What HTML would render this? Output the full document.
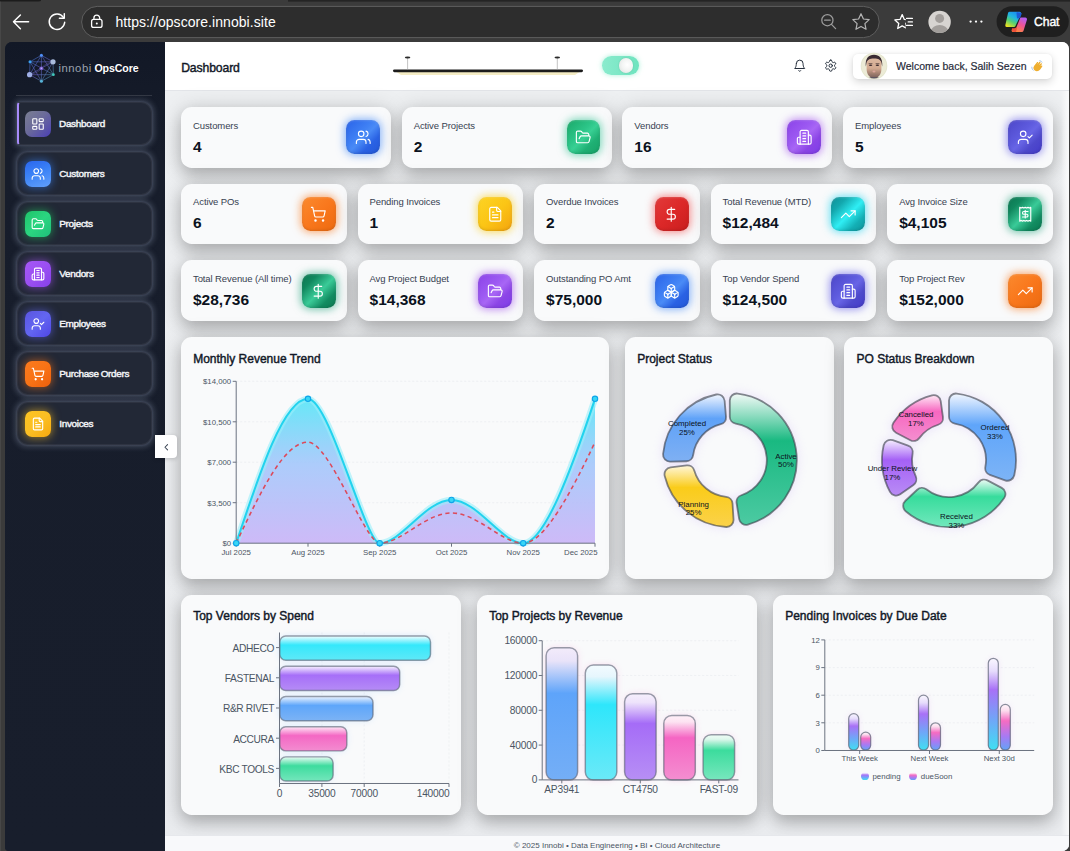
<!DOCTYPE html>
<html><head><meta charset="utf-8"><title>OpsCore Dashboard</title>
<style>
*{box-sizing:border-box}
html,body{margin:0;padding:0}
html{width:1070px;height:851px;overflow:hidden}
body{width:1070px;height:851px;overflow:hidden;background:linear-gradient(90deg,#474747 0,#474747 1px,#3b3b3b 1px);position:relative;font-family:"Liberation Sans",sans-serif;-webkit-font-smoothing:antialiased}
#chrome{position:absolute;left:0;top:0}
#page{position:absolute;left:5px;top:42px;width:1064px;height:809px;border-radius:7px 7px 7px 4px;overflow:hidden;background:linear-gradient(90deg,#141a28 0,#141a28 160px,#ffffff 160px)}
#abs{position:absolute;left:-5px;top:-42px;width:1070px;height:851px}
#abs>*{position:absolute}
#content-bg{left:165px;top:90px;width:904px;height:761px;background:linear-gradient(180deg,#eef0f2 0%,#e9ebee 100%)}
#sidebar{left:5px;top:42px;width:160px;height:809px;background:linear-gradient(180deg,#121826 0%,#171d2b 14%,#181e2c 100%)}
#logo{left:21px;top:48px}
#brand{left:58.4px;top:62.3px;font-size:11px;line-height:13px;white-space:nowrap}
#brand .b1{color:#9aa1ad;letter-spacing:.55px;font-size:11.3px}
#brand .b2{color:#fff;font-weight:700;font-size:10.6px;letter-spacing:-.1px;margin-left:-.5px}
#sb-div{left:16px;top:94.6px;width:136px;height:1px;background:rgba(255,255,255,.13)}
.nav{left:17px;width:135px;height:42.8px;border-radius:11px;background:#222836;border:1px solid rgba(255,255,255,.055);box-shadow:0 0 5px 2.5px rgba(150,165,190,.24),0 0 2px 1px rgba(150,165,190,.13)}
.nav.act{border-left:2px solid #a78bfa;border-radius:3px 11px 11px 3px}
.nav .ntile{position:absolute;left:7px;top:8px;width:26px;height:26px;border-radius:7px;display:flex;align-items:center;justify-content:center}
.nav.act .ntile{left:6px}
.nav span{position:absolute;left:41.2px;top:14.8px;color:#f1f3f6;font-weight:400;font-size:9.95px;line-height:12px;-webkit-text-stroke:.45px #f1f3f6;letter-spacing:-.3px;word-spacing:-.6px;white-space:nowrap}
.nav.act span{left:40px}
#header{left:165px;top:42px;width:904px;height:48.5px;background:#fff;border-bottom:1px solid #e3e5e9}
#htitle{left:181.2px;top:60.7px;font-weight:400;font-size:12.2px;line-height:15px;-webkit-text-stroke:.42px #111827;letter-spacing:-.12px;color:#111827;white-space:nowrap}
#lamp{left:388px;top:54px}
#toggle{left:602px;top:56.4px;width:37px;height:18.4px;border-radius:9.2px;background:linear-gradient(90deg,#8aebcd,#6fe4bf);box-shadow:0 0 5px rgba(110,231,190,.6)}
#knob{position:absolute;left:16.6px;top:1.8px;width:14.8px;height:14.8px;border-radius:50%;background:radial-gradient(circle at 60% 45%,#fff 0%,#f3f5f4 45%,#d9dedc 100%);box-shadow:0 0 2px rgba(0,0,0,.16)}
.hicon{width:14px;height:14px;line-height:0}
#welcome{left:852.6px;top:54.2px;width:199.4px;height:24.6px;border-radius:5px;background:#fff;box-shadow:0 3px 9px rgba(0,0,0,.16),0 0 3px rgba(0,0,0,.06)}
#welcome span{position:absolute;left:43.4px;top:5.6px;font-size:10.5px;line-height:13px;color:#1f2937;-webkit-text-stroke:.18px #1f2937;white-space:nowrap}
#avatar{left:860.3px;top:51.8px}
#wave{left:1029.5px;top:58.6px}
.card{background:#f9fafb;border-radius:10.67px;box-shadow:0 8px 16px rgba(0,0,0,.21),0 0 22px rgba(0,0,0,.135)}
.stat{height:60.5px}
.stat .lbl{position:absolute;left:12px;top:12.6px;font-size:9.5px;line-height:12px;color:#374151;letter-spacing:-.1px;white-space:nowrap}
.stat .val{position:absolute;left:12px;top:30px;font-size:15.5px;line-height:19px;font-weight:700;color:#0b1220;white-space:nowrap}
.stat .tile{position:absolute;right:11.3px;top:13.2px;width:33.8px;height:33.8px;border-radius:8.4px;display:flex;align-items:center;justify-content:center}
.chart .ttl{position:absolute;left:12.2px;top:14.4px;font-size:12px;line-height:15px;font-weight:400;-webkit-text-stroke:.42px #111827;letter-spacing:0;color:#111827;white-space:nowrap}
.chart .cs{position:absolute;left:0;top:0;overflow:visible}
#footer{left:165px;top:835px;width:904px;height:16px;background:#f8f9fb;border-top:1px solid #e6e8ec;text-align:center;font-size:8px;line-height:20px;color:#4b5563}
#collapse{left:155px;top:435.2px;width:22.2px;height:23.3px;background:#fff;border-radius:0 4px 4px 0;box-shadow:0 1px 4px rgba(0,0,0,.18);display:flex;align-items:center;justify-content:center}
#collapse svg{stroke:#374151}
#redge{left:1061px;top:91px;width:8px;height:744px;background:linear-gradient(90deg,rgba(255,255,255,0),rgba(255,255,255,.75))}

</style></head><body>
<svg id="chrome" width="1070" height="42" viewBox="0 0 1070 42"><defs>
<linearGradient id="cpA" gradientUnits="userSpaceOnUse" x1="1016" y1="12" x2="1008" y2="27"><stop offset="0" stop-color="#1b8ff2"/><stop offset=".35" stop-color="#22b6e0"/><stop offset=".62" stop-color="#52cf74"/><stop offset="1" stop-color="#f3e11e"/></linearGradient>
<linearGradient id="cpB" gradientUnits="userSpaceOnUse" x1="1024" y1="18" x2="1016" y2="32"><stop offset="0" stop-color="#b45ff2"/><stop offset=".45" stop-color="#ee5496"/><stop offset="1" stop-color="#ff8b38"/></linearGradient>
<clipPath id="pfc"><circle cx="939.6" cy="21.9" r="11.2"/></clipPath></defs><rect width="1070" height="42" fill="#3b3b3b"/><path d="M0,0H41V0.6Q41,1.6 38,1.6H0Z" fill="#1c1c1c"/><rect x="288" y="0" width="782" height="1.6" fill="#242424"/><rect x="0" y="1.6" width="1" height="41" fill="#474747"/><rect x="81.6" y="6.4" width="797.6" height="31.2" rx="15.6" fill="#2d2d2d" stroke="#5e5e5e" stroke-width="1"/><g fill="none" stroke="#fff" stroke-width="1.45" stroke-linecap="round" stroke-linejoin="round"><path d="M28.6,21.8H13.6M20.4,14.9 13.5,21.8 20.4,28.7"/><path d="M64.7,22.3A7.75,7.75 0 1 1 63.4,17.4"/><path d="M59.4,18.3H64.3V13.6"/><rect x="91.6" y="19.4" width="10.4" height="8" rx="2" stroke-width="1.3"/><path d="M93.9,19.2V18a2.9,2.9 0 0 1 5.8,0V19.2" stroke-width="1.3"/></g><circle cx="96.8" cy="23.4" r="1" fill="#fff"/><g fill="none" stroke="#9c9c9c" stroke-width="1.25" stroke-linecap="round"><circle cx="827.4" cy="20.2" r="5.6"/><path d="M831.5,24.4 835.6,28.6M824.6,20.2h5.6"/></g><polygon points="861.00,13.70 863.41,18.98 869.18,19.64 864.90,23.57 866.05,29.26 861.00,26.40 855.95,29.26 857.10,23.57 852.82,19.64 858.59,18.98" fill="none" stroke="#b4b4b4" stroke-width="1.2" stroke-linejoin="round"/><clipPath id="favc"><rect x="890" y="10" width="15.8" height="24"/></clipPath><polygon points="902.20,14.60 904.32,19.39 909.52,19.92 905.62,23.41 906.73,28.53 902.20,25.90 897.67,28.53 898.78,23.41 894.88,19.92 900.08,19.39" fill="none" stroke="#fff" stroke-width="1.3" stroke-linejoin="round" clip-path="url(#favc)"/><path d="M906.6,18.4h5.8M908.2,21.9h4.2M906.6,25.4h5.8" stroke="#fff" stroke-width="1.3" stroke-linecap="round"/><circle cx="939.6" cy="21.9" r="11.2" fill="#d7d4d1"/><g clip-path="url(#pfc)"><circle cx="939.6" cy="18.4" r="4.5" fill="#a29e9b"/><ellipse cx="939.6" cy="30.6" rx="8.2" ry="5.6" fill="#a29e9b"/></g><circle cx="970.6" cy="21.6" r="1.15" fill="#fff"/><circle cx="976" cy="21.6" r="1.15" fill="#fff"/><circle cx="981.4" cy="21.6" r="1.15" fill="#fff"/><rect x="996.6" y="6.2" width="72.2" height="30.8" rx="15.4" fill="#1f1f1f"/><polygon points="1019.9,19.2 1025.4,19.2 1021.9,30.4 1013.2,30.4" fill="url(#cpB)" stroke="url(#cpB)" stroke-width="3.2" stroke-linejoin="round"/><polygon points="1012.6,27.6 1016.4,27.2 1015.6,31.2 1012.8,31.0" fill="#ee4f3c" stroke="#ee4f3c" stroke-width="1.4" stroke-linejoin="round"/><polygon points="1015.4,13.6 1019.6,13.6 1014.6,26.0 1012,26.0" fill="#1f1f1f" stroke="#1f1f1f" stroke-width="4.4" stroke-linejoin="round"/><polygon points="1009.6,13.4 1019.6,13.4 1014.0,25.4 1006.9,25.4" fill="url(#cpA)" stroke="url(#cpA)" stroke-width="3.2" stroke-linejoin="round"/><polygon points="1017.2,13.0 1021.0,13.6 1019.6,17.6 1017.6,17.8" fill="#1c5bd6" stroke="#1c5bd6" stroke-width="1.4" stroke-linejoin="round"/><text x="1034" y="25.9" font-family="Liberation Sans, sans-serif" font-size="12.2" letter-spacing="-.1" stroke="#fff" stroke-width=".4" fill="#fff">Chat</text><text x="115.4" y="26.9" font-family="Liberation Sans, sans-serif" font-size="14" letter-spacing=".06" fill="#fff">https://opscore.innobi.site</text></svg>
<div id="page"><div id="abs">
<div id="content-bg"></div>
<div id="sidebar"></div>
<svg id="logo" width="40" height="40" viewBox="21 48 40 40"><defs><linearGradient id="lgl" gradientUnits="userSpaceOnUse" x1="28" y1="56" x2="55" y2="82"><stop offset="0" stop-color="#3f8ff5"/><stop offset=".5" stop-color="#7a6be0"/><stop offset="1" stop-color="#3fd6c0"/></linearGradient></defs><g stroke="url(#lgl)" stroke-width=".62" opacity=".78"><line x1="41.4" y1="55.3" x2="53.0" y2="61.8"/><line x1="41.4" y1="55.3" x2="53.4" y2="74.7"/><line x1="41.4" y1="55.3" x2="41.4" y2="81.2"/><line x1="41.4" y1="55.3" x2="29.6" y2="74.7"/><line x1="41.4" y1="55.3" x2="30.0" y2="61.8"/><line x1="53.0" y1="61.8" x2="53.4" y2="74.7"/><line x1="53.0" y1="61.8" x2="41.4" y2="81.2"/><line x1="53.0" y1="61.8" x2="29.6" y2="74.7"/><line x1="53.0" y1="61.8" x2="30.0" y2="61.8"/><line x1="53.4" y1="74.7" x2="41.4" y2="81.2"/><line x1="53.4" y1="74.7" x2="29.6" y2="74.7"/><line x1="53.4" y1="74.7" x2="30.0" y2="61.8"/><line x1="41.4" y1="81.2" x2="29.6" y2="74.7"/><line x1="41.4" y1="81.2" x2="30.0" y2="61.8"/><line x1="29.6" y1="74.7" x2="30.0" y2="61.8"/></g><path d="M29.6,74.7Q39.4,72.3 41.4,68.3T53.0,61.8" fill="none" stroke="#8b7be8" stroke-width=".5" opacity=".55"/><circle cx="41.4" cy="55.3" r="1.5" fill="#4f8ff7"/><circle cx="53.0" cy="61.8" r="2.6" fill="#a9bbdc"/><circle cx="53.4" cy="74.7" r="1.4" fill="#3fc8ba"/><circle cx="41.4" cy="81.2" r="1.5" fill="#56b2d6"/><circle cx="29.6" cy="74.7" r="2.6" fill="#9fafe6"/><circle cx="30.0" cy="61.8" r="1.5" fill="#3b9ff0"/><circle cx="41.4" cy="68.3" r="1.9" fill="#7a5fd0"/><circle cx="41.4" cy="68.3" r=".8" fill="#c4b5fd"/></svg><div id="brand"><span class="b1">innobi</span> <span class="b2">OpsCore</span></div>
<div id="sb-div"></div>
<div class="nav act" style="top:102.4px"><div class="ntile" style="background:linear-gradient(135deg,#7a7f92 0%,#6b6b9a 45%,#4a3fb5 100%);box-shadow:0 0 8px 1px rgba(99,102,241,.0)"><svg width="14" height="14" viewBox="0 0 24 24" fill="none" stroke="#fff" stroke-width="1.9" stroke-linecap="round" stroke-linejoin="round" ><rect width="7" height="9" x="3" y="3" rx="1"/><rect width="7" height="5" x="14" y="3" rx="1"/><rect width="7" height="9" x="14" y="12" rx="1"/><rect width="7" height="5" x="3" y="16" rx="1"/></svg></div><span>Dashboard</span></div><div class="nav" style="top:152.4px"><div class="ntile" style="background:linear-gradient(160deg,#2a66ee 0%,#3b82f6 45%,#62a0fb 100%);box-shadow:0 0 8px 1px rgba(59,130,246,.55)"><svg width="14" height="14" viewBox="0 0 24 24" fill="none" stroke="#fff" stroke-width="1.9" stroke-linecap="round" stroke-linejoin="round" ><path d="M16 21v-2a4 4 0 0 0-4-4H6a4 4 0 0 0-4 4v2"/><circle cx="9" cy="7" r="4"/><path d="M22 21v-2a4 4 0 0 0-3-3.87"/><path d="M16 3.13a4 4 0 0 1 0 7.75"/></svg></div><span>Customers</span></div><div class="nav" style="top:202.4px"><div class="ntile" style="background:linear-gradient(135deg,#1fc46a 0%,#2bd680 50%,#1fbf7a 100%);box-shadow:0 0 8px 1px rgba(34,197,94,.55)"><svg width="14" height="14" viewBox="0 0 24 24" fill="none" stroke="#fff" stroke-width="1.9" stroke-linecap="round" stroke-linejoin="round" ><path d="m6 14 1.5-2.9A2 2 0 0 1 9.24 10H20a2 2 0 0 1 1.94 2.5l-1.54 6a2 2 0 0 1-1.95 1.5H4a2 2 0 0 1-2-2V5a2 2 0 0 1 2-2h3.9a2 2 0 0 1 1.69.9l.81 1.2a2 2 0 0 0 1.67.9H18a2 2 0 0 1 2 2v2"/></svg></div><span>Projects</span></div><div class="nav" style="top:252.4px"><div class="ntile" style="background:linear-gradient(135deg,#a557f7 0%,#9b4ff2 50%,#8640ea 100%);box-shadow:0 0 8px 1px rgba(168,85,247,.55)"><svg width="14" height="14" viewBox="0 0 24 24" fill="none" stroke="#fff" stroke-width="1.9" stroke-linecap="round" stroke-linejoin="round" ><path d="M6 22V4a2 2 0 0 1 2-2h8a2 2 0 0 1 2 2v18Z"/><path d="M6 12H4a2 2 0 0 0-2 2v6a2 2 0 0 0 2 2h2"/><path d="M18 9h2a2 2 0 0 1 2 2v9a2 2 0 0 1-2 2h-2"/><path d="M10 6h4"/><path d="M10 10h4"/><path d="M10 14h4"/><path d="M10 18h4"/></svg></div><span>Vendors</span></div><div class="nav" style="top:302.4px"><div class="ntile" style="background:linear-gradient(135deg,#5a55e0 0%,#6366f1 50%,#4f46e5 100%);box-shadow:0 0 8px 1px rgba(99,102,241,.55)"><svg width="14" height="14" viewBox="0 0 24 24" fill="none" stroke="#fff" stroke-width="1.9" stroke-linecap="round" stroke-linejoin="round" ><path d="M16 21v-2a4 4 0 0 0-4-4H6a4 4 0 0 0-4 4v2"/><circle cx="9" cy="7" r="4"/><polyline points="16 11 18 13 22 9"/></svg></div><span>Employees</span></div><div class="nav" style="top:352.4px"><div class="ntile" style="background:linear-gradient(135deg,#fb7a1e 0%,#f97316 50%,#ee5f0c 100%);box-shadow:0 0 8px 1px rgba(249,115,22,.55)"><svg width="14" height="14" viewBox="0 0 24 24" fill="none" stroke="#fff" stroke-width="1.9" stroke-linecap="round" stroke-linejoin="round" ><circle cx="8" cy="21" r="1"/><circle cx="19" cy="21" r="1"/><path d="M2.05 2.05h2l2.66 12.42a2 2 0 0 0 2 1.58h9.78a2 2 0 0 0 1.95-1.57l1.65-7.43H5.12"/></svg></div><span>Purchase Orders</span></div><div class="nav" style="top:402.4px"><div class="ntile" style="background:linear-gradient(135deg,#fcc422 0%,#fbbf24 50%,#f6a90f 100%);box-shadow:0 0 8px 1px rgba(251,191,36,.55)"><svg width="14" height="14" viewBox="0 0 24 24" fill="none" stroke="#fff" stroke-width="1.9" stroke-linecap="round" stroke-linejoin="round" ><path d="M15 2H6a2 2 0 0 0-2 2v16a2 2 0 0 0 2 2h12a2 2 0 0 0 2-2V7Z"/><path d="M14 2v4a2 2 0 0 0 2 2h4"/><path d="M10 9H8"/><path d="M16 13H8"/><path d="M16 17H8"/></svg></div><span>Invoices</span></div>
<div id="header"></div><div id="htitle">Dashboard</div><svg id="lamp" width="200" height="24" viewBox="388 54 200 24">
<path d="M396.500,72H579.500L575,75H401Z" fill="#f4ecc4"/>
<rect x="393" y="69.4" width="190" height="2.8" rx="1.4" fill="#1c1c1c"/>
<line x1="407.6" y1="58" x2="407.6" y2="69.6" stroke="#9a9a9a" stroke-width=".6"/><line x1="557.3" y1="58" x2="557.3" y2="69.6" stroke="#9a9a9a" stroke-width=".6"/>
<ellipse cx="407.6" cy="57.4" rx="2.8" ry="1" fill="#2a2a2a"/><ellipse cx="557.3" cy="57.4" rx="2.8" ry="1" fill="#2a2a2a"/></svg><div id="toggle"><div id="knob"></div></div><div class="hicon" style="left:792.6px;top:58.8px"><svg width="13.4" height="13.4" viewBox="0 0 24 24" fill="none" stroke="#1f2937" stroke-width="1.75" stroke-linecap="round" stroke-linejoin="round" ><path d="M6 8a6 6 0 0 1 12 0c0 7 3 9 3 9H3s3-2 3-9"/><path d="M10.3 21a1.94 1.94 0 0 0 3.4 0"/></svg></div><div class="hicon" style="left:824.3px;top:59.1px"><svg width="13.4" height="13.4" viewBox="0 0 24 24" fill="none" stroke="#1f2937" stroke-width="1.75" stroke-linecap="round" stroke-linejoin="round" ><path d="M12.22 2h-.44a2 2 0 0 0-2 2v.18a2 2 0 0 1-1 1.73l-.43.25a2 2 0 0 1-2 0l-.15-.08a2 2 0 0 0-2.73.73l-.22.38a2 2 0 0 0 .73 2.73l.15.1a2 2 0 0 1 1 1.72v.51a2 2 0 0 1-1 1.74l-.15.09a2 2 0 0 0-.73 2.73l.22.38a2 2 0 0 0 2.73.73l.15-.08a2 2 0 0 1 2 0l.43.25a2 2 0 0 1 1 1.73V20a2 2 0 0 0 2 2h.44a2 2 0 0 0 2-2v-.18a2 2 0 0 1 1-1.73l.43-.25a2 2 0 0 1 2 0l.15.08a2 2 0 0 0 2.73-.73l.22-.39a2 2 0 0 0-.73-2.73l-.15-.08a2 2 0 0 1-1-1.74v-.5a2 2 0 0 1 1-1.74l.15-.09a2 2 0 0 0 .73-2.73l-.22-.38a2 2 0 0 0-2.73-.73l-.15.08a2 2 0 0 1-2 0l-.43-.25a2 2 0 0 1-1-1.73V4a2 2 0 0 0-2-2z"/><circle cx="12" cy="12" r="3"/></svg></div><div id="welcome"><span>Welcome back, Salih Sezen</span></div><svg id="avatar" width="28" height="28" viewBox="0 0 28 28"><defs><clipPath id="avc"><circle cx="14" cy="14" r="12.4"/></clipPath>
<linearGradient id="skin" x1="0" y1="0" x2="0" y2="1"><stop offset="0" stop-color="#dcb9a0"/><stop offset=".5" stop-color="#d3aa90"/><stop offset=".72" stop-color="#a98574"/><stop offset="1" stop-color="#735c58"/></linearGradient>
<filter id="avb" x="-10%" y="-10%" width="120%" height="120%"><feGaussianBlur stdDeviation=".45"/></filter></defs>
<circle cx="14" cy="14" r="13.3" fill="#e4e6cf"/><circle cx="14" cy="14" r="12.4" fill="#ecebd6"/>
<g clip-path="url(#avc)"><g filter="url(#avb)">
<path d="M5.800,14.500C5,6.500 8.800,2.800 14,2.800S23,6.500 22.200,14.500L21,10C19.500,7.600 17.500,7 14,7S8.500,7.600 7,10Z" fill="#3a2b33"/>
<path d="M6.600,10.500C6.600,7.500 9.500,6 14,6S21.400,7.500 21.400,10.500V17C21.400,22.500 18,26.400 14,26.400S6.600,22.500 6.600,17Z" fill="url(#skin)"/>
<path d="M6.500,11.500C6.300,6.500 8.500,3.600 14,3.600S21.700,6.500 21.500,11.500C21,8.200 19.500,6.500 14,6.500S7,8.200 6.500,11.500Z" fill="#3a2b33"/>
<ellipse cx="10.600" cy="13.300" rx="1.700" ry=".75" fill="#3b2a2c"/><ellipse cx="17.400" cy="13.300" rx="1.700" ry=".75" fill="#3b2a2c"/>
<rect x="8.600" y="11.400" width="3.800" height=".7" fill="#4a3838"/><rect x="15.600" y="11.400" width="3.800" height=".7" fill="#4a3838"/>
<ellipse cx="14" cy="19.600" rx="1.500" ry="1" fill="#d9a49a"/>
<path d="M8,26C10,24.500 18,24.500 20,26V28H8Z" fill="#5d5560"/>
</g></g></svg><svg id="wave" width="14" height="14" viewBox="0 0 14 14"><path d="M4.200,6.800 6.800,3.400C7.400,2.600 8.400,3.200 8,4L7,5.800 9.200,3C9.800,2.200 10.900,2.900 10.400,3.800L9,6 10.800,4.400C11.500,3.800 12.300,4.600 11.800,5.300L10.200,7.300 11.400,6.600C12.200,6.200 12.700,7.100 12.100,7.700 10.800,9.800 9.500,12 7,12.200 4.800,12.400 3.200,10.600 3.400,8.600Z" fill="#eeae30"/><path d="M1.800,8.200C1.800,9.600 2.400,10.600 3.200,11.200M9.800,1.600C10.800,1.800 11.600,2.400 12,3.200" stroke="#8fb8e8" stroke-width=".8" fill="none" stroke-linecap="round"/></svg>
<div class="card stat" style="left:181px;top:107px;width:210px;height:60.8px">
<div class="lbl" style="top:12.9px">Customers</div><div class="val" style="top:30.2px">4</div>
<div class="tile" style="top:13.0px;background:linear-gradient(135deg,#2a63e8 0%,#3f80f4 40%,#4a8bf6 52%,#2a62e4 72%,#2358d8 100%);box-shadow:0 0 9px 1px rgba(59,130,246,.65),inset 0 -1px 3px rgba(0,0,0,.12),inset 0 1px 2px rgba(255,255,255,.18)"><svg width="16.5" height="16.5" viewBox="0 0 24 24" fill="none" stroke="#fff" stroke-width="1.65" stroke-linecap="round" stroke-linejoin="round" ><path d="M16 21v-2a4 4 0 0 0-4-4H6a4 4 0 0 0-4 4v2"/><circle cx="9" cy="7" r="4"/><path d="M22 21v-2a4 4 0 0 0-3-3.87"/><path d="M16 3.13a4 4 0 0 1 0 7.75"/></svg></div></div><div class="card stat" style="left:401.67px;top:107px;width:210px;height:60.8px">
<div class="lbl" style="top:12.9px">Active Projects</div><div class="val" style="top:30.2px">2</div>
<div class="tile" style="top:13.0px;background:linear-gradient(135deg,#1aa869 0%,#2cc588 40%,#38d094 52%,#1fb074 72%,#17a267 100%);box-shadow:0 0 9px 1px rgba(16,185,129,.6),inset 0 -1px 3px rgba(0,0,0,.12),inset 0 1px 2px rgba(255,255,255,.18)"><svg width="16.5" height="16.5" viewBox="0 0 24 24" fill="none" stroke="#fff" stroke-width="1.65" stroke-linecap="round" stroke-linejoin="round" ><path d="m6 14 1.5-2.9A2 2 0 0 1 9.24 10H20a2 2 0 0 1 1.94 2.5l-1.54 6a2 2 0 0 1-1.95 1.5H4a2 2 0 0 1-2-2V5a2 2 0 0 1 2-2h3.9a2 2 0 0 1 1.69.9l.81 1.2a2 2 0 0 0 1.67.9H18a2 2 0 0 1 2 2v2"/></svg></div></div><div class="card stat" style="left:622.33px;top:107px;width:210px;height:60.8px">
<div class="lbl" style="top:12.9px">Vendors</div><div class="val" style="top:30.2px">16</div>
<div class="tile" style="top:13.0px;background:linear-gradient(135deg,#8b42e8 0%,#9d5af2 40%,#a866f5 52%,#8c45e6 72%,#7e3cea 100%);box-shadow:0 0 9px 1px rgba(147,51,234,.6),inset 0 -1px 3px rgba(0,0,0,.12),inset 0 1px 2px rgba(255,255,255,.18)"><svg width="16.5" height="16.5" viewBox="0 0 24 24" fill="none" stroke="#fff" stroke-width="1.65" stroke-linecap="round" stroke-linejoin="round" ><path d="M6 22V4a2 2 0 0 1 2-2h8a2 2 0 0 1 2 2v18Z"/><path d="M6 12H4a2 2 0 0 0-2 2v6a2 2 0 0 0 2 2h2"/><path d="M18 9h2a2 2 0 0 1 2 2v9a2 2 0 0 1-2 2h-2"/><path d="M10 6h4"/><path d="M10 10h4"/><path d="M10 14h4"/><path d="M10 18h4"/></svg></div></div><div class="card stat" style="left:843px;top:107px;width:210px;height:60.8px">
<div class="lbl" style="top:12.9px">Employees</div><div class="val" style="top:30.2px">5</div>
<div class="tile" style="top:13.0px;background:linear-gradient(135deg,#4c46c8 0%,#5e5bde 40%,#6865e6 52%,#4e49cc 72%,#443aca 100%);box-shadow:0 0 9px 1px rgba(79,70,229,.6),inset 0 -1px 3px rgba(0,0,0,.12),inset 0 1px 2px rgba(255,255,255,.18)"><svg width="16.5" height="16.5" viewBox="0 0 24 24" fill="none" stroke="#fff" stroke-width="1.65" stroke-linecap="round" stroke-linejoin="round" ><path d="M16 21v-2a4 4 0 0 0-4-4H6a4 4 0 0 0-4 4v2"/><circle cx="9" cy="7" r="4"/><polyline points="16 11 18 13 22 9"/></svg></div></div><div class="card stat" style="left:181px;top:183.9px;width:165.87px;height:60.2px">
<div class="lbl" style="top:12.0px">Active POs</div><div class="val" style="top:29.299999999999997px">6</div>
<div class="tile" style="top:13.1px;background:linear-gradient(135deg,#fb8a2e 0%,#f9771c 50%,#ec6a10 100%);box-shadow:0 0 9px 1px rgba(249,115,22,.65),inset 0 -1px 3px rgba(0,0,0,.12),inset 0 1px 2px rgba(255,255,255,.18)"><svg width="16.5" height="16.5" viewBox="0 0 24 24" fill="none" stroke="#fff" stroke-width="1.65" stroke-linecap="round" stroke-linejoin="round" ><circle cx="8" cy="21" r="1"/><circle cx="19" cy="21" r="1"/><path d="M2.05 2.05h2l2.66 12.42a2 2 0 0 0 2 1.58h9.78a2 2 0 0 0 1.95-1.57l1.65-7.43H5.12"/></svg></div></div><div class="card stat" style="left:357.53px;top:183.9px;width:165.87px;height:60.2px">
<div class="lbl" style="top:12.0px">Pending Invoices</div><div class="val" style="top:29.299999999999997px">1</div>
<div class="tile" style="top:13.1px;background:linear-gradient(135deg,#fdd424 0%,#fbc515 50%,#f4a40e 100%);box-shadow:0 0 9px 1px rgba(250,204,21,.7),inset 0 -1px 3px rgba(0,0,0,.12),inset 0 1px 2px rgba(255,255,255,.18)"><svg width="16.5" height="16.5" viewBox="0 0 24 24" fill="none" stroke="#fff" stroke-width="1.65" stroke-linecap="round" stroke-linejoin="round" ><path d="M15 2H6a2 2 0 0 0-2 2v16a2 2 0 0 0 2 2h12a2 2 0 0 0 2-2V7Z"/><path d="M14 2v4a2 2 0 0 0 2 2h4"/><path d="M10 9H8"/><path d="M16 13H8"/><path d="M16 17H8"/></svg></div></div><div class="card stat" style="left:534.07px;top:183.9px;width:165.87px;height:60.2px">
<div class="lbl" style="top:12.0px">Overdue Invoices</div><div class="val" style="top:29.299999999999997px">2</div>
<div class="tile" style="top:13.1px;background:linear-gradient(135deg,#e23a3a 0%,#dc2828 50%,#c81e1e 100%);box-shadow:0 0 9px 1px rgba(239,68,68,.65),inset 0 -1px 3px rgba(0,0,0,.12),inset 0 1px 2px rgba(255,255,255,.18)"><svg width="16.5" height="16.5" viewBox="0 0 24 24" fill="none" stroke="#fff" stroke-width="1.65" stroke-linecap="round" stroke-linejoin="round" ><line x1="12" x2="12" y1="2" y2="22"/><path d="M17 5H9.5a3.5 3.5 0 0 0 0 7h5a3.5 3.5 0 0 1 0 7H6"/></svg></div></div><div class="card stat" style="left:710.6px;top:183.9px;width:165.87px;height:60.2px">
<div class="lbl" style="top:12.0px">Total Revenue (MTD)</div><div class="val" style="top:29.299999999999997px">$12,484</div>
<div class="tile" style="top:13.1px;background:linear-gradient(135deg,#0d8d95 0%,#13a8ae 24%,#2feef4 52%,#14b0b6 76%,#0d9399 100%);box-shadow:0 0 9px 1px rgba(34,211,238,.7),inset 0 -1px 3px rgba(0,0,0,.12),inset 0 1px 2px rgba(255,255,255,.18)"><svg width="16.5" height="16.5" viewBox="0 0 24 24" fill="none" stroke="#fff" stroke-width="1.65" stroke-linecap="round" stroke-linejoin="round" ><polyline points="22 7 13.5 15.5 8.5 10.5 2 17"/><polyline points="16 7 22 7 22 13"/></svg></div></div><div class="card stat" style="left:887.13px;top:183.9px;width:165.87px;height:60.2px">
<div class="lbl" style="top:12.0px">Avg Invoice Size</div><div class="val" style="top:29.299999999999997px">$4,105</div>
<div class="tile" style="top:13.1px;background:linear-gradient(135deg,#0b7550 0%,#11895f 24%,#3acb98 52%,#128c61 76%,#0b7a52 100%);box-shadow:0 0 9px 1px rgba(5,150,105,.6),inset 0 -1px 3px rgba(0,0,0,.12),inset 0 1px 2px rgba(255,255,255,.18)"><svg width="16.5" height="16.5" viewBox="0 0 24 24" fill="none" stroke="#fff" stroke-width="1.65" stroke-linecap="round" stroke-linejoin="round" ><path d="M4 2v20l2-1 2 1 2-1 2 1 2-1 2 1 2-1 2 1V2l-2 1-2-1-2 1-2-1-2 1-2-1-2 1Z"/><path d="M16 8h-6a2 2 0 1 0 0 4h4a2 2 0 1 1 0 4H8"/><path d="M12 17.5v-11"/></svg></div></div><div class="card stat" style="left:181px;top:260px;width:165.87px;height:60.6px">
<div class="lbl" style="top:13.0px">Total Revenue (All time)</div><div class="val" style="top:29.7px">$28,736</div>
<div class="tile" style="top:13.9px;background:linear-gradient(135deg,#0b7550 0%,#11895f 24%,#3acb98 52%,#128c61 76%,#0b7a52 100%);box-shadow:0 0 9px 1px rgba(5,150,105,.6),inset 0 -1px 3px rgba(0,0,0,.12),inset 0 1px 2px rgba(255,255,255,.18)"><svg width="16.5" height="16.5" viewBox="0 0 24 24" fill="none" stroke="#fff" stroke-width="1.65" stroke-linecap="round" stroke-linejoin="round" ><line x1="12" x2="12" y1="2" y2="22"/><path d="M17 5H9.5a3.5 3.5 0 0 0 0 7h5a3.5 3.5 0 0 1 0 7H6"/></svg></div></div><div class="card stat" style="left:357.53px;top:260px;width:165.87px;height:60.6px">
<div class="lbl" style="top:13.0px">Avg Project Budget</div><div class="val" style="top:29.7px">$14,368</div>
<div class="tile" style="top:13.9px;background:linear-gradient(135deg,#8b42e8 0%,#9d5af2 40%,#a866f5 52%,#8c45e6 72%,#7e3cea 100%);box-shadow:0 0 9px 1px rgba(147,51,234,.6),inset 0 -1px 3px rgba(0,0,0,.12),inset 0 1px 2px rgba(255,255,255,.18)"><svg width="16.5" height="16.5" viewBox="0 0 24 24" fill="none" stroke="#fff" stroke-width="1.65" stroke-linecap="round" stroke-linejoin="round" ><path d="m6 14 1.5-2.9A2 2 0 0 1 9.24 10H20a2 2 0 0 1 1.94 2.5l-1.54 6a2 2 0 0 1-1.95 1.5H4a2 2 0 0 1-2-2V5a2 2 0 0 1 2-2h3.9a2 2 0 0 1 1.69.9l.81 1.2a2 2 0 0 0 1.67.9H18a2 2 0 0 1 2 2v2"/></svg></div></div><div class="card stat" style="left:534.07px;top:260px;width:165.87px;height:60.6px">
<div class="lbl" style="top:13.0px">Outstanding PO Amt</div><div class="val" style="top:29.7px">$75,000</div>
<div class="tile" style="top:13.9px;background:linear-gradient(135deg,#2a63e8 0%,#3f80f4 40%,#4a8bf6 52%,#2a62e4 72%,#2358d8 100%);box-shadow:0 0 9px 1px rgba(59,130,246,.65),inset 0 -1px 3px rgba(0,0,0,.12),inset 0 1px 2px rgba(255,255,255,.18)"><svg width="16.5" height="16.5" viewBox="0 0 24 24" fill="none" stroke="#fff" stroke-width="1.65" stroke-linecap="round" stroke-linejoin="round" ><path d="M2.97 12.92A2 2 0 0 0 2 14.63v3.24a2 2 0 0 0 .97 1.71l3 1.8a2 2 0 0 0 2.06 0L12 19v-5.5l-5-3-4.03 2.42Z"/><path d="m7 16.5-4.74-2.85"/><path d="m7 16.5 5-3"/><path d="M7 16.5v5.17"/><path d="M12 13.5V19l3.97 2.38a2 2 0 0 0 2.06 0l3-1.8a2 2 0 0 0 .97-1.71v-3.24a2 2 0 0 0-.97-1.71L17 10.5l-5 3Z"/><path d="m17 16.5-5-3"/><path d="m17 16.5 4.74-2.85"/><path d="M17 16.5v5.17"/><path d="M7.97 4.42A2 2 0 0 0 7 6.13v4.37l5 3 5-3V6.13a2 2 0 0 0-.97-1.71l-3-1.8a2 2 0 0 0-2.06 0l-3 1.8Z"/><path d="M12 8 7.26 5.15"/><path d="m12 8 4.74-2.85"/><path d="M12 13.5V8"/></svg></div></div><div class="card stat" style="left:710.6px;top:260px;width:165.87px;height:60.6px">
<div class="lbl" style="top:13.0px">Top Vendor Spend</div><div class="val" style="top:29.7px">$124,500</div>
<div class="tile" style="top:13.9px;background:linear-gradient(135deg,#4c46c8 0%,#5e5bde 40%,#6865e6 52%,#4e49cc 72%,#443aca 100%);box-shadow:0 0 9px 1px rgba(79,70,229,.6),inset 0 -1px 3px rgba(0,0,0,.12),inset 0 1px 2px rgba(255,255,255,.18)"><svg width="16.5" height="16.5" viewBox="0 0 24 24" fill="none" stroke="#fff" stroke-width="1.65" stroke-linecap="round" stroke-linejoin="round" ><path d="M6 22V4a2 2 0 0 1 2-2h8a2 2 0 0 1 2 2v18Z"/><path d="M6 12H4a2 2 0 0 0-2 2v6a2 2 0 0 0 2 2h2"/><path d="M18 9h2a2 2 0 0 1 2 2v9a2 2 0 0 1-2 2h-2"/><path d="M10 6h4"/><path d="M10 10h4"/><path d="M10 14h4"/><path d="M10 18h4"/></svg></div></div><div class="card stat" style="left:887.13px;top:260px;width:165.87px;height:60.6px">
<div class="lbl" style="top:13.0px">Top Project Rev</div><div class="val" style="top:29.7px">$152,000</div>
<div class="tile" style="top:13.9px;background:linear-gradient(135deg,#fb8a2e 0%,#f9771c 50%,#ec6a10 100%);box-shadow:0 0 9px 1px rgba(249,115,22,.65),inset 0 -1px 3px rgba(0,0,0,.12),inset 0 1px 2px rgba(255,255,255,.18)"><svg width="16.5" height="16.5" viewBox="0 0 24 24" fill="none" stroke="#fff" stroke-width="1.65" stroke-linecap="round" stroke-linejoin="round" ><polyline points="22 7 13.5 15.5 8.5 10.5 2 17"/><polyline points="16 7 22 7 22 13"/></svg></div></div>
<div class="card chart" style="left:181px;top:337px;width:428px;height:242px"><div class="ttl" style="top:15px">Monthly Revenue Trend</div><svg class="cs" width="428" height="241.5" viewBox="181 337 428 241.5"><defs><linearGradient id="lg1" x1="0" y1="0" x2="0" y2="1"><stop offset="0" stop-color="#5ee7f7" stop-opacity=".95"/><stop offset=".45" stop-color="#9fc4fb" stop-opacity=".85"/><stop offset="1" stop-color="#c9b3f7" stop-opacity=".9"/></linearGradient>
<filter id="glow1" x="-10%" y="-10%" width="120%" height="130%"><feGaussianBlur stdDeviation=".7"/></filter></defs><line x1="236.2" x2="595.0" y1="502.7" y2="502.7" stroke="#e9ebef" stroke-width=".7" stroke-dasharray="2 2"/><line x1="236.2" x2="595.0" y1="462.2" y2="462.2" stroke="#e9ebef" stroke-width=".7" stroke-dasharray="2 2"/><line x1="236.2" x2="595.0" y1="421.8" y2="421.8" stroke="#e9ebef" stroke-width=".7" stroke-dasharray="2 2"/><line x1="236.2" x2="595.0" y1="381.3" y2="381.3" stroke="#e9ebef" stroke-width=".7" stroke-dasharray="2 2"/><path d="M236.20,543.20C260.12,471.02 284.04,398.83 307.96,398.83C329.49,398.83 365.37,543.20 379.72,543.20C401.25,543.20 425.65,499.95 451.48,499.95C477.31,499.95 501.71,543.20 523.24,543.20C544.05,543.20 571.08,471.02 595.00,398.83L595.0,543.2L236.2,543.2Z" fill="url(#lg1)"/><path d="M236.20,543.20C260.12,471.02 284.04,398.83 307.96,398.83C329.49,398.83 365.37,543.20 379.72,543.20C401.25,543.20 425.65,499.95 451.48,499.95C477.31,499.95 501.71,543.20 523.24,543.20C544.05,543.20 571.08,471.02 595.00,398.83" fill="none" stroke="#9beffa" stroke-width="6.4" opacity=".6" filter="url(#glow1)"/><path d="M236.20,543.20C260.12,471.02 284.04,398.83 307.96,398.83C329.49,398.83 365.37,543.20 379.72,543.20C401.25,543.20 425.65,499.95 451.48,499.95C477.31,499.95 501.71,543.20 523.24,543.20C544.05,543.20 571.08,471.02 595.00,398.83" fill="none" stroke="#22d3ee" stroke-width="2.05" stroke-linejoin="round"/><path d="M236.20,543.20C260.12,492.67 284.04,442.14 307.96,442.14C329.49,442.14 365.37,543.20 379.72,543.20C401.25,543.20 425.65,512.92 451.48,512.92C477.31,512.92 501.71,543.20 523.24,543.20C544.05,543.20 571.08,492.67 595.00,442.14" fill="none" stroke="#dc4a5c" stroke-width="1.55" stroke-dasharray="4.2 3.4"/><line x1="236.2" x2="236.2" y1="381.3" y2="543.2" stroke="#6b7280" stroke-width="1"/><line x1="236.2" x2="595.0" y1="543.2" y2="543.2" stroke="#6b7280" stroke-width="1"/><line x1="232.7" x2="236.2" y1="543.2" y2="543.2" stroke="#6b7280" stroke-width="1"/><text x="231.2" y="546.0" text-anchor="end" font-size="7.8" fill="#4b5563" font-family="Liberation Sans, sans-serif">$0</text><line x1="232.7" x2="236.2" y1="502.7" y2="502.7" stroke="#6b7280" stroke-width="1"/><text x="231.2" y="505.5" text-anchor="end" font-size="7.8" fill="#4b5563" font-family="Liberation Sans, sans-serif">$3,500</text><line x1="232.7" x2="236.2" y1="462.2" y2="462.2" stroke="#6b7280" stroke-width="1"/><text x="231.2" y="465.1" text-anchor="end" font-size="7.8" fill="#4b5563" font-family="Liberation Sans, sans-serif">$7,000</text><line x1="232.7" x2="236.2" y1="421.8" y2="421.8" stroke="#6b7280" stroke-width="1"/><text x="231.2" y="424.6" text-anchor="end" font-size="7.8" fill="#4b5563" font-family="Liberation Sans, sans-serif">$10,500</text><line x1="232.7" x2="236.2" y1="381.3" y2="381.3" stroke="#6b7280" stroke-width="1"/><text x="231.2" y="384.1" text-anchor="end" font-size="7.8" fill="#4b5563" font-family="Liberation Sans, sans-serif">$14,000</text><line x1="236.2" x2="236.2" y1="543.2" y2="546.7" stroke="#6b7280" stroke-width="1"/><text x="236.2" y="554.7" text-anchor="middle" font-size="7.8" fill="#4b5563" font-family="Liberation Sans, sans-serif">Jul 2025</text><line x1="308.0" x2="308.0" y1="543.2" y2="546.7" stroke="#6b7280" stroke-width="1"/><text x="308.0" y="554.7" text-anchor="middle" font-size="7.8" fill="#4b5563" font-family="Liberation Sans, sans-serif">Aug 2025</text><line x1="379.7" x2="379.7" y1="543.2" y2="546.7" stroke="#6b7280" stroke-width="1"/><text x="379.7" y="554.7" text-anchor="middle" font-size="7.8" fill="#4b5563" font-family="Liberation Sans, sans-serif">Sep 2025</text><line x1="451.5" x2="451.5" y1="543.2" y2="546.7" stroke="#6b7280" stroke-width="1"/><text x="451.5" y="554.7" text-anchor="middle" font-size="7.8" fill="#4b5563" font-family="Liberation Sans, sans-serif">Oct 2025</text><line x1="523.2" x2="523.2" y1="543.2" y2="546.7" stroke="#6b7280" stroke-width="1"/><text x="523.2" y="554.7" text-anchor="middle" font-size="7.8" fill="#4b5563" font-family="Liberation Sans, sans-serif">Nov 2025</text><line x1="595.0" x2="595.0" y1="543.2" y2="546.7" stroke="#6b7280" stroke-width="1"/><text x="597.5" y="554.7" text-anchor="end" font-size="7.8" fill="#4b5563" font-family="Liberation Sans, sans-serif">Dec 2025</text><circle cx="236.2" cy="543.2" r="2.7" fill="#38d6f5" stroke="#0ea5e9" stroke-width="1.1"/><circle cx="308.0" cy="398.8" r="2.7" fill="#38d6f5" stroke="#0ea5e9" stroke-width="1.1"/><circle cx="379.7" cy="543.2" r="2.7" fill="#38d6f5" stroke="#0ea5e9" stroke-width="1.1"/><circle cx="451.5" cy="499.9" r="2.7" fill="#38d6f5" stroke="#0ea5e9" stroke-width="1.1"/><circle cx="523.2" cy="543.2" r="2.7" fill="#38d6f5" stroke="#0ea5e9" stroke-width="1.1"/><circle cx="595.0" cy="398.8" r="2.7" fill="#38d6f5" stroke="#0ea5e9" stroke-width="1.1"/></svg></div>
<div class="card chart" style="left:625px;top:337px;width:208.7px;height:242px"><div class="ttl" style="top:15px">Project Status</div><svg class="cs" width="208.7" height="241.5" viewBox="625 337 208.7 241.5"><defs><linearGradient id="da0" x1="0" y1="0" x2="0" y2="1"><stop offset="0" stop-color="#f3faf7"/><stop offset="0.36" stop-color="#19b981"/><stop offset="1" stop-color="#4ccaa2"/></linearGradient><linearGradient id="da1" x1="0" y1="0" x2="0" y2="1"><stop offset="0" stop-color="#fff7dc"/><stop offset="0.36" stop-color="#facc1a"/><stop offset="1" stop-color="#fbd24a"/></linearGradient><linearGradient id="da2" x1="0" y1="0" x2="0" y2="1"><stop offset="0" stop-color="#f1f6ff"/><stop offset="0.36" stop-color="#5fa2f8"/><stop offset="1" stop-color="#7fb0f3"/></linearGradient><filter id="dagl" x="-30%" y="-30%" width="160%" height="160%"><feGaussianBlur stdDeviation="4"/></filter></defs><g filter="url(#dagl)" opacity=".22"><path d="M729.80,400.51A7.0,7.0 0 0 1 737.62,393.56A67.0,67.0 0 0 1 747.93,524.60A7.0,7.0 0 0 1 739.12,518.96L736.60,503.00A7.0,7.0 0 0 1 741.33,495.26A37.0,37.0 0 0 0 735.69,423.57A7.0,7.0 0 0 1 729.80,416.66Z" fill="#c4a8f5" stroke="#c4a8f5" stroke-width="5"/><path d="M733.54,519.57A7.0,7.0 0 0 1 726.18,527.00A67.0,67.0 0 0 1 664.71,475.97A7.0,7.0 0 0 1 670.65,467.36L686.68,465.39A7.0,7.0 0 0 1 694.26,470.39A37.0,37.0 0 0 0 726.22,496.93A7.0,7.0 0 0 1 732.53,503.45Z" fill="#c4a8f5" stroke="#c4a8f5" stroke-width="5"/><path d="M670.23,461.66A7.0,7.0 0 0 1 663.08,454.03A67.0,67.0 0 0 1 716.21,394.49A7.0,7.0 0 0 1 724.61,400.74L726.01,416.83A7.0,7.0 0 0 1 720.75,424.22A37.0,37.0 0 0 0 693.13,455.17A7.0,7.0 0 0 1 686.38,461.24Z" fill="#c4a8f5" stroke="#c4a8f5" stroke-width="5"/></g><path d="M729.80,400.51A7.0,7.0 0 0 1 737.62,393.56A67.0,67.0 0 0 1 747.93,524.60A7.0,7.0 0 0 1 739.12,518.96L736.60,503.00A7.0,7.0 0 0 1 741.33,495.26A37.0,37.0 0 0 0 735.69,423.57A7.0,7.0 0 0 1 729.80,416.66Z" fill="url(#da0)" stroke="rgba(60,64,74,.62)" stroke-width="1.8" stroke-linejoin="round"/><path d="M733.54,519.57A7.0,7.0 0 0 1 726.18,527.00A67.0,67.0 0 0 1 664.71,475.97A7.0,7.0 0 0 1 670.65,467.36L686.68,465.39A7.0,7.0 0 0 1 694.26,470.39A37.0,37.0 0 0 0 726.22,496.93A7.0,7.0 0 0 1 732.53,503.45Z" fill="url(#da1)" stroke="rgba(60,64,74,.62)" stroke-width="1.8" stroke-linejoin="round"/><path d="M670.23,461.66A7.0,7.0 0 0 1 663.08,454.03A67.0,67.0 0 0 1 716.21,394.49A7.0,7.0 0 0 1 724.61,400.74L726.01,416.83A7.0,7.0 0 0 1 720.75,424.22A37.0,37.0 0 0 0 693.13,455.17A7.0,7.0 0 0 1 686.38,461.24Z" fill="url(#da2)" stroke="rgba(60,64,74,.62)" stroke-width="1.8" stroke-linejoin="round"/><text x="786" y="459.40000000000003" text-anchor="middle" font-size="7.9" fill="#0b1220" font-family="Liberation Sans, sans-serif">Active</text><text x="786" y="467.2" text-anchor="middle" font-size="7.9" fill="#0b1220" font-family="Liberation Sans, sans-serif">50%</text><text x="693.6" y="507.40000000000003" text-anchor="middle" font-size="7.9" fill="#0b1220" font-family="Liberation Sans, sans-serif">Planning</text><text x="693.6" y="515.4" text-anchor="middle" font-size="7.9" fill="#0b1220" font-family="Liberation Sans, sans-serif">25%</text><text x="687" y="426.40000000000003" text-anchor="middle" font-size="7.9" fill="#0b1220" font-family="Liberation Sans, sans-serif">Completed</text><text x="687" y="435.2" text-anchor="middle" font-size="7.9" fill="#0b1220" font-family="Liberation Sans, sans-serif">25%</text></svg></div>
<div class="card chart" style="left:844.3px;top:337px;width:208.7px;height:242px"><div class="ttl" style="top:15px">PO Status Breakdown</div><svg class="cs" width="208.7" height="241.5" viewBox="844 337 208.7 241.5"><defs><linearGradient id="db0" x1="0" y1="0" x2="0" y2="1"><stop offset="0" stop-color="#f3f7ff"/><stop offset="0.36" stop-color="#5fa5fa"/><stop offset="1" stop-color="#7db4f6"/></linearGradient><linearGradient id="db1" x1="0" y1="0" x2="0" y2="1"><stop offset="0" stop-color="#eefcf6"/><stop offset="0.36" stop-color="#37dc9c"/><stop offset="1" stop-color="#72e8bd"/></linearGradient><linearGradient id="db2" x1="0" y1="0" x2="0" y2="1"><stop offset="0" stop-color="#f6efff"/><stop offset="0.36" stop-color="#a561f6"/><stop offset="1" stop-color="#b98cf5"/></linearGradient><linearGradient id="db3" x1="0" y1="0" x2="0" y2="1"><stop offset="0" stop-color="#ffeaf7"/><stop offset="0.36" stop-color="#f767c0"/><stop offset="1" stop-color="#f48fd0"/></linearGradient><filter id="dbgl" x="-30%" y="-30%" width="160%" height="160%"><feGaussianBlur stdDeviation="4"/></filter></defs><g filter="url(#dbgl)" opacity=".22"><path d="M949.00,400.51A7.0,7.0 0 0 1 956.82,393.56A67.0,67.0 0 0 1 1014.26,475.29A7.0,7.0 0 0 1 1005.07,480.29L989.87,474.81A7.0,7.0 0 0 1 985.36,466.94A37.0,37.0 0 0 0 954.89,423.57A7.0,7.0 0 0 1 949.00,416.66Z" fill="#c4a8f5" stroke="#c4a8f5" stroke-width="5"/><path d="M1001.71,487.89A7.0,7.0 0 0 1 1004.22,498.05A67.0,67.0 0 0 1 905.66,511.20A7.0,7.0 0 0 1 905.42,500.74L917.23,489.73A7.0,7.0 0 0 1 926.30,489.32A37.0,37.0 0 0 0 978.57,482.34A7.0,7.0 0 0 1 987.43,480.36Z" fill="#c4a8f5" stroke="#c4a8f5" stroke-width="5"/><path d="M900.19,494.28A7.0,7.0 0 0 1 890.01,491.86A67.0,67.0 0 0 1 883.67,445.26A7.0,7.0 0 0 1 892.83,440.21L908.05,445.60A7.0,7.0 0 0 1 912.60,453.46A37.0,37.0 0 0 0 915.70,476.23A7.0,7.0 0 0 1 913.42,485.02Z" fill="#c4a8f5" stroke="#c4a8f5" stroke-width="5"/><path d="M896.05,432.77A7.0,7.0 0 0 1 893.45,422.63A67.0,67.0 0 0 1 932.00,395.29A7.0,7.0 0 0 1 940.71,401.09L942.95,417.08A7.0,7.0 0 0 1 938.09,424.75A37.0,37.0 0 0 0 919.24,438.12A7.0,7.0 0 0 1 910.40,440.18Z" fill="#c4a8f5" stroke="#c4a8f5" stroke-width="5"/></g><path d="M949.00,400.51A7.0,7.0 0 0 1 956.82,393.56A67.0,67.0 0 0 1 1014.26,475.29A7.0,7.0 0 0 1 1005.07,480.29L989.87,474.81A7.0,7.0 0 0 1 985.36,466.94A37.0,37.0 0 0 0 954.89,423.57A7.0,7.0 0 0 1 949.00,416.66Z" fill="url(#db0)" stroke="rgba(60,64,74,.62)" stroke-width="1.8" stroke-linejoin="round"/><path d="M1001.71,487.89A7.0,7.0 0 0 1 1004.22,498.05A67.0,67.0 0 0 1 905.66,511.20A7.0,7.0 0 0 1 905.42,500.74L917.23,489.73A7.0,7.0 0 0 1 926.30,489.32A37.0,37.0 0 0 0 978.57,482.34A7.0,7.0 0 0 1 987.43,480.36Z" fill="url(#db1)" stroke="rgba(60,64,74,.62)" stroke-width="1.8" stroke-linejoin="round"/><path d="M900.19,494.28A7.0,7.0 0 0 1 890.01,491.86A67.0,67.0 0 0 1 883.67,445.26A7.0,7.0 0 0 1 892.83,440.21L908.05,445.60A7.0,7.0 0 0 1 912.60,453.46A37.0,37.0 0 0 0 915.70,476.23A7.0,7.0 0 0 1 913.42,485.02Z" fill="url(#db2)" stroke="rgba(60,64,74,.62)" stroke-width="1.8" stroke-linejoin="round"/><path d="M896.05,432.77A7.0,7.0 0 0 1 893.45,422.63A67.0,67.0 0 0 1 932.00,395.29A7.0,7.0 0 0 1 940.71,401.09L942.95,417.08A7.0,7.0 0 0 1 938.09,424.75A37.0,37.0 0 0 0 919.24,438.12A7.0,7.0 0 0 1 910.40,440.18Z" fill="url(#db3)" stroke="rgba(60,64,74,.62)" stroke-width="1.8" stroke-linejoin="round"/><text x="995" y="430.2" text-anchor="middle" font-size="7.9" fill="#0b1220" font-family="Liberation Sans, sans-serif">Ordered</text><text x="995" y="438.8" text-anchor="middle" font-size="7.9" fill="#0b1220" font-family="Liberation Sans, sans-serif">33%</text><text x="956.4" y="519.1999999999999" text-anchor="middle" font-size="7.9" fill="#0b1220" font-family="Liberation Sans, sans-serif">Received</text><text x="956.4" y="527.8" text-anchor="middle" font-size="7.9" fill="#0b1220" font-family="Liberation Sans, sans-serif">33%</text><text x="892.4" y="471.2" text-anchor="middle" font-size="7.9" fill="#0b1220" font-family="Liberation Sans, sans-serif">Under Review</text><text x="892.4" y="480.40000000000003" text-anchor="middle" font-size="7.9" fill="#0b1220" font-family="Liberation Sans, sans-serif">17%</text><text x="916" y="417.2" text-anchor="middle" font-size="7.9" fill="#0b1220" font-family="Liberation Sans, sans-serif">Cancelled</text><text x="916" y="425.8" text-anchor="middle" font-size="7.9" fill="#0b1220" font-family="Liberation Sans, sans-serif">17%</text></svg></div>
<div class="card chart" style="left:181px;top:594.8px;width:280px;height:220.2px"><div class="ttl">Top Vendors by Spend</div><svg class="cs" width="280" height="220.2" viewBox="181 594.8 280 220.2"><defs><linearGradient id="hb0" x1="0" y1="0" x2="0" y2="1"><stop offset="0" stop-color="#f1fdff"/><stop offset="0.37" stop-color="#35e8fb"/><stop offset="1" stop-color="#5fe9f8"/></linearGradient><linearGradient id="hb1" x1="0" y1="0" x2="0" y2="1"><stop offset="0" stop-color="#f6f0ff"/><stop offset="0.37" stop-color="#a66ff8"/><stop offset="1" stop-color="#b58cf6"/></linearGradient><linearGradient id="hb2" x1="0" y1="0" x2="0" y2="1"><stop offset="0" stop-color="#eef5ff"/><stop offset="0.37" stop-color="#5ea6fa"/><stop offset="1" stop-color="#7cb3f5"/></linearGradient><linearGradient id="hb3" x1="0" y1="0" x2="0" y2="1"><stop offset="0" stop-color="#ffeaf7"/><stop offset="0.37" stop-color="#f468c4"/><stop offset="1" stop-color="#f38cd0"/></linearGradient><linearGradient id="hb4" x1="0" y1="0" x2="0" y2="1"><stop offset="0" stop-color="#ecfcf5"/><stop offset="0.37" stop-color="#3ddc9e"/><stop offset="1" stop-color="#74e6bc"/></linearGradient><filter id="hbgl" x="-10%" y="-30%" width="120%" height="160%"><feGaussianBlur stdDeviation="3"/></filter></defs><line x1="321.9" x2="321.9" y1="632.3" y2="783.3" stroke="#e9ebef" stroke-width=".7" stroke-dasharray="2 2"/><line x1="364.2" x2="364.2" y1="632.3" y2="783.3" stroke="#e9ebef" stroke-width=".7" stroke-dasharray="2 2"/><line x1="449.0" x2="449.0" y1="632.3" y2="783.3" stroke="#e9ebef" stroke-width=".7" stroke-dasharray="2 2"/><rect x="279.5" y="635.9" width="150.7" height="24.2" rx="6" fill="#93c5fd" opacity=".35" filter="url(#hbgl)"/><rect x="279.5" y="666.1" width="119.9" height="24.2" rx="6" fill="#93c5fd" opacity=".35" filter="url(#hbgl)"/><rect x="279.5" y="696.3" width="93.2" height="24.2" rx="6" fill="#93c5fd" opacity=".35" filter="url(#hbgl)"/><rect x="279.5" y="726.5" width="67.0" height="24.2" rx="6" fill="#93c5fd" opacity=".35" filter="url(#hbgl)"/><rect x="279.5" y="756.7" width="53.3" height="24.2" rx="6" fill="#93c5fd" opacity=".35" filter="url(#hbgl)"/><rect x="279.8" y="635.9" width="150.7" height="24.2" rx="6" fill="url(#hb0)" stroke="rgba(88,96,114,.6)" stroke-width="1.45"/><line x1="276.0" x2="279.5" y1="647.4" y2="647.4" stroke="#6b7280" stroke-width="1"/><text x="274.0" y="651.8" text-anchor="end" font-size="10.2" fill="#4b5563" letter-spacing="-.36" font-family="Liberation Sans, sans-serif">ADHECO</text><rect x="279.8" y="666.1" width="119.9" height="24.2" rx="6" fill="url(#hb1)" stroke="rgba(88,96,114,.6)" stroke-width="1.45"/><line x1="276.0" x2="279.5" y1="677.6" y2="677.6" stroke="#6b7280" stroke-width="1"/><text x="274.0" y="682.0" text-anchor="end" font-size="10.2" fill="#4b5563" letter-spacing="-.36" font-family="Liberation Sans, sans-serif">FASTENAL</text><rect x="279.8" y="696.3" width="93.2" height="24.2" rx="6" fill="url(#hb2)" stroke="rgba(88,96,114,.6)" stroke-width="1.45"/><line x1="276.0" x2="279.5" y1="707.8" y2="707.8" stroke="#6b7280" stroke-width="1"/><text x="274.0" y="712.2" text-anchor="end" font-size="10.2" fill="#4b5563" letter-spacing="-.36" font-family="Liberation Sans, sans-serif">R&amp;R RIVET</text><rect x="279.8" y="726.5" width="67.0" height="24.2" rx="6" fill="url(#hb3)" stroke="rgba(88,96,114,.6)" stroke-width="1.45"/><line x1="276.0" x2="279.5" y1="738.0" y2="738.0" stroke="#6b7280" stroke-width="1"/><text x="274.0" y="742.4" text-anchor="end" font-size="10.2" fill="#4b5563" letter-spacing="-.36" font-family="Liberation Sans, sans-serif">ACCURA</text><rect x="279.8" y="756.7" width="53.3" height="24.2" rx="6" fill="url(#hb4)" stroke="rgba(88,96,114,.6)" stroke-width="1.45"/><line x1="276.0" x2="279.5" y1="768.2" y2="768.2" stroke="#6b7280" stroke-width="1"/><text x="274.0" y="772.6" text-anchor="end" font-size="10.2" fill="#4b5563" letter-spacing="-.36" font-family="Liberation Sans, sans-serif">KBC TOOLS</text><line x1="279.5" x2="279.5" y1="632.3" y2="783.3" stroke="#6b7280" stroke-width="1"/><line x1="279.5" x2="449.0" y1="783.3" y2="783.3" stroke="#6b7280" stroke-width="1"/><line x1="279.5" x2="279.5" y1="783.3" y2="786.8" stroke="#6b7280" stroke-width="1"/><text x="279.5" y="796.6999999999999" text-anchor="middle" font-size="10.2" fill="#4b5563" letter-spacing="-.2" font-family="Liberation Sans, sans-serif">0</text><line x1="321.9" x2="321.9" y1="783.3" y2="786.8" stroke="#6b7280" stroke-width="1"/><text x="321.9" y="796.6999999999999" text-anchor="middle" font-size="10.2" fill="#4b5563" letter-spacing="-.2" font-family="Liberation Sans, sans-serif">35000</text><line x1="364.2" x2="364.2" y1="783.3" y2="786.8" stroke="#6b7280" stroke-width="1"/><text x="364.2" y="796.6999999999999" text-anchor="middle" font-size="10.2" fill="#4b5563" letter-spacing="-.2" font-family="Liberation Sans, sans-serif">70000</text><line x1="449.0" x2="449.0" y1="783.3" y2="786.8" stroke="#6b7280" stroke-width="1"/><text x="449.5" y="796.6999999999999" text-anchor="end" font-size="10.2" fill="#4b5563" letter-spacing="-.2" font-family="Liberation Sans, sans-serif">140000</text></svg></div>
<div class="card chart" style="left:477px;top:594.8px;width:280px;height:220.2px"><div class="ttl">Top Projects by Revenue</div><svg class="cs" width="280" height="220.2" viewBox="477 594.8 280 220.2"><defs><linearGradient id="vb0" x1="0" y1="0" x2="0" y2="1"><stop offset="0" stop-color="#f3ebfa"/><stop offset=".1" stop-color="#e9e3f9"/><stop offset=".345" stop-color="#5ea4fa"/><stop offset="1" stop-color="#74aef6"/></linearGradient><linearGradient id="vb1" x1="0" y1="0" x2="0" y2="1"><stop offset="0" stop-color="#f3fbff"/><stop offset=".1" stop-color="#e6f6fd"/><stop offset=".345" stop-color="#2ee6fb"/><stop offset="1" stop-color="#6be9f8"/></linearGradient><linearGradient id="vb2" x1="0" y1="0" x2="0" y2="1"><stop offset="0" stop-color="#f6effc"/><stop offset=".1" stop-color="#eee3fb"/><stop offset=".345" stop-color="#a56cf7"/><stop offset="1" stop-color="#b78ff5"/></linearGradient><linearGradient id="vb3" x1="0" y1="0" x2="0" y2="1"><stop offset="0" stop-color="#fff0f8"/><stop offset=".1" stop-color="#fde3f2"/><stop offset=".345" stop-color="#f565c3"/><stop offset="1" stop-color="#f48ed0"/></linearGradient><linearGradient id="vb4" x1="0" y1="0" x2="0" y2="1"><stop offset="0" stop-color="#effcf6"/><stop offset=".1" stop-color="#def7ec"/><stop offset=".345" stop-color="#3cdc9d"/><stop offset="1" stop-color="#78e7be"/></linearGradient><filter id="vbgl" x="-30%" y="-10%" width="160%" height="120%"><feGaussianBlur stdDeviation="3.5"/></filter></defs><line x1="542.2" x2="738.5" y1="744.9" y2="744.9" stroke="#e9ebef" stroke-width=".7" stroke-dasharray="2 2"/><line x1="542.2" x2="738.5" y1="710.1" y2="710.1" stroke="#e9ebef" stroke-width=".7" stroke-dasharray="2 2"/><line x1="542.2" x2="738.5" y1="675.3" y2="675.3" stroke="#e9ebef" stroke-width=".7" stroke-dasharray="2 2"/><line x1="542.2" x2="738.5" y1="640.5" y2="640.5" stroke="#e9ebef" stroke-width=".7" stroke-dasharray="2 2"/><rect x="546.1" y="647.5" width="31.5" height="132.2" rx="8" fill="#f5a8dc" opacity=".4" filter="url(#vbgl)"/><rect x="585.3" y="664.9" width="31.5" height="114.8" rx="8" fill="#f5a8dc" opacity=".4" filter="url(#vbgl)"/><rect x="624.6" y="693.6" width="31.5" height="86.1" rx="8" fill="#f5a8dc" opacity=".4" filter="url(#vbgl)"/><rect x="663.8" y="715.3" width="31.5" height="64.4" rx="8" fill="#f5a8dc" opacity=".4" filter="url(#vbgl)"/><rect x="703.1" y="734.5" width="31.5" height="45.2" rx="8" fill="#f5a8dc" opacity=".4" filter="url(#vbgl)"/><rect x="546.1" y="647.5" width="31.5" height="132.4" rx="8" fill="url(#vb0)" stroke="rgba(88,96,114,.6)" stroke-width="1.45"/><rect x="585.3" y="664.9" width="31.5" height="115.0" rx="8" fill="url(#vb1)" stroke="rgba(88,96,114,.6)" stroke-width="1.45"/><rect x="624.6" y="693.6" width="31.5" height="86.3" rx="8" fill="url(#vb2)" stroke="rgba(88,96,114,.6)" stroke-width="1.45"/><rect x="663.8" y="715.3" width="31.5" height="64.6" rx="8" fill="url(#vb3)" stroke="rgba(88,96,114,.6)" stroke-width="1.45"/><rect x="703.1" y="734.5" width="31.5" height="45.4" rx="8" fill="url(#vb4)" stroke="rgba(88,96,114,.6)" stroke-width="1.45"/><line x1="542.2" x2="542.2" y1="640.5" y2="779.7" stroke="#6b7280" stroke-width="1"/><line x1="542.2" x2="738.5" y1="779.7" y2="779.7" stroke="#6b7280" stroke-width="1"/><line x1="538.7" x2="542.2" y1="779.7" y2="779.7" stroke="#6b7280" stroke-width="1"/><text x="537.2" y="783.3" text-anchor="end" font-size="10.2" fill="#4b5563" letter-spacing="-.2" font-family="Liberation Sans, sans-serif">0</text><line x1="538.7" x2="542.2" y1="744.9" y2="744.9" stroke="#6b7280" stroke-width="1"/><text x="537.2" y="748.5" text-anchor="end" font-size="10.2" fill="#4b5563" letter-spacing="-.2" font-family="Liberation Sans, sans-serif">40000</text><line x1="538.7" x2="542.2" y1="710.1" y2="710.1" stroke="#6b7280" stroke-width="1"/><text x="537.2" y="713.7" text-anchor="end" font-size="10.2" fill="#4b5563" letter-spacing="-.2" font-family="Liberation Sans, sans-serif">80000</text><line x1="538.7" x2="542.2" y1="675.3" y2="675.3" stroke="#6b7280" stroke-width="1"/><text x="537.2" y="678.9" text-anchor="end" font-size="10.2" fill="#4b5563" letter-spacing="-.2" font-family="Liberation Sans, sans-serif">120000</text><line x1="538.7" x2="542.2" y1="640.5" y2="640.5" stroke="#6b7280" stroke-width="1"/><text x="537.2" y="644.1" text-anchor="end" font-size="10.2" fill="#4b5563" letter-spacing="-.2" font-family="Liberation Sans, sans-serif">160000</text><line x1="561.8" x2="561.8" y1="779.7" y2="783.2" stroke="#6b7280" stroke-width="1"/><text x="561.8" y="793.2" text-anchor="middle" font-size="10.2" fill="#4b5563" letter-spacing="-.2" font-family="Liberation Sans, sans-serif">AP3941</text><line x1="640.3" x2="640.3" y1="779.7" y2="783.2" stroke="#6b7280" stroke-width="1"/><text x="640.3" y="793.2" text-anchor="middle" font-size="10.2" fill="#4b5563" letter-spacing="-.2" font-family="Liberation Sans, sans-serif">CT4750</text><line x1="718.8" x2="718.8" y1="779.7" y2="783.2" stroke="#6b7280" stroke-width="1"/><text x="718.8" y="793.2" text-anchor="middle" font-size="10.2" fill="#4b5563" letter-spacing="-.2" font-family="Liberation Sans, sans-serif">FAST-09</text></svg></div>
<div class="card chart" style="left:773px;top:594.8px;width:280px;height:220.2px"><div class="ttl">Pending Invoices by Due Date</div><svg class="cs" width="280" height="220.2" viewBox="773 594.8 280 220.2"><defs>
<linearGradient id="gp" x1="0" y1="0" x2="0" y2="1"><stop offset="0" stop-color="#faf7ff"/><stop offset=".14" stop-color="#e6dcfc"/><stop offset=".34" stop-color="#a871f6"/><stop offset=".68" stop-color="#6ea8f8"/><stop offset="1" stop-color="#3fe0f2"/></linearGradient>
<linearGradient id="gd" x1="0" y1="0" x2="0" y2="1"><stop offset="0" stop-color="#fff6fb"/><stop offset=".14" stop-color="#fcdcee"/><stop offset=".36" stop-color="#f56cc2"/><stop offset=".7" stop-color="#a77af3"/><stop offset="1" stop-color="#62a4f7"/></linearGradient>
<filter id="ggl" x="-60%" y="-10%" width="220%" height="120%"><feGaussianBlur stdDeviation="3"/></filter></defs><line x1="824.8" x2="1034.2" y1="722.6" y2="722.6" stroke="#e9ebef" stroke-width=".7" stroke-dasharray="2 2"/><line x1="824.8" x2="1034.2" y1="695.0" y2="695.0" stroke="#e9ebef" stroke-width=".7" stroke-dasharray="2 2"/><line x1="824.8" x2="1034.2" y1="667.4" y2="667.4" stroke="#e9ebef" stroke-width=".7" stroke-dasharray="2 2"/><line x1="824.8" x2="1034.2" y1="639.7" y2="639.7" stroke="#e9ebef" stroke-width=".7" stroke-dasharray="2 2"/><rect x="848.7" y="713.4" width="10" height="36.9" rx="5" fill="#e3b5f2" opacity=".35" filter="url(#ggl)"/><rect x="860.7" y="731.9" width="10" height="18.4" rx="5" fill="#e3b5f2" opacity=".35" filter="url(#ggl)"/><rect x="918.5" y="695.0" width="10" height="55.3" rx="5" fill="#e3b5f2" opacity=".35" filter="url(#ggl)"/><rect x="930.5" y="722.6" width="10" height="27.6" rx="5" fill="#e3b5f2" opacity=".35" filter="url(#ggl)"/><rect x="988.3" y="658.1" width="10" height="92.2" rx="5" fill="#e3b5f2" opacity=".35" filter="url(#ggl)"/><rect x="1000.3" y="704.2" width="10" height="46.1" rx="5" fill="#e3b5f2" opacity=".35" filter="url(#ggl)"/><rect x="848.7" y="713.4" width="10.0" height="36.6" rx="5" fill="url(#gp)" stroke="rgba(88,96,114,.7)" stroke-width="1.2"/><rect x="860.7" y="731.9" width="10.0" height="18.1" rx="5" fill="url(#gd)" stroke="rgba(88,96,114,.7)" stroke-width="1.2"/><rect x="918.5" y="695.0" width="10.0" height="55.0" rx="5" fill="url(#gp)" stroke="rgba(88,96,114,.7)" stroke-width="1.2"/><rect x="930.5" y="722.6" width="10.0" height="27.3" rx="5" fill="url(#gd)" stroke="rgba(88,96,114,.7)" stroke-width="1.2"/><rect x="988.3" y="658.1" width="10.0" height="91.9" rx="5" fill="url(#gp)" stroke="rgba(88,96,114,.7)" stroke-width="1.2"/><rect x="1000.3" y="704.2" width="10.0" height="45.8" rx="5" fill="url(#gd)" stroke="rgba(88,96,114,.7)" stroke-width="1.2"/><line x1="824.8" x2="824.8" y1="639.7" y2="750.3" stroke="#6b7280" stroke-width="1"/><line x1="824.8" x2="1034.2" y1="750.3" y2="750.3" stroke="#6b7280" stroke-width="1"/><line x1="821.3" x2="824.8" y1="750.3" y2="750.3" stroke="#6b7280" stroke-width="1"/><text x="819.8" y="753.1" text-anchor="end" font-size="7.8" fill="#4b5563" font-family="Liberation Sans, sans-serif">0</text><line x1="821.3" x2="824.8" y1="722.6" y2="722.6" stroke="#6b7280" stroke-width="1"/><text x="819.8" y="725.4" text-anchor="end" font-size="7.8" fill="#4b5563" font-family="Liberation Sans, sans-serif">3</text><line x1="821.3" x2="824.8" y1="695.0" y2="695.0" stroke="#6b7280" stroke-width="1"/><text x="819.8" y="697.8" text-anchor="end" font-size="7.8" fill="#4b5563" font-family="Liberation Sans, sans-serif">6</text><line x1="821.3" x2="824.8" y1="667.4" y2="667.4" stroke="#6b7280" stroke-width="1"/><text x="819.8" y="670.1" text-anchor="end" font-size="7.8" fill="#4b5563" font-family="Liberation Sans, sans-serif">9</text><line x1="821.3" x2="824.8" y1="639.7" y2="639.7" stroke="#6b7280" stroke-width="1"/><text x="819.8" y="642.5" text-anchor="end" font-size="7.8" fill="#4b5563" font-family="Liberation Sans, sans-serif">12</text><line x1="859.7" x2="859.7" y1="750.3" y2="753.8" stroke="#6b7280" stroke-width="1"/><text x="859.7" y="760.5" text-anchor="middle" font-size="7.8" fill="#4b5563" font-family="Liberation Sans, sans-serif">This Week</text><line x1="929.5" x2="929.5" y1="750.3" y2="753.8" stroke="#6b7280" stroke-width="1"/><text x="929.5" y="760.5" text-anchor="middle" font-size="7.8" fill="#4b5563" font-family="Liberation Sans, sans-serif">Next Week</text><line x1="999.3" x2="999.3" y1="750.3" y2="753.8" stroke="#6b7280" stroke-width="1"/><text x="999.3" y="760.5" text-anchor="middle" font-size="7.8" fill="#4b5563" font-family="Liberation Sans, sans-serif">Next 30d</text><path d="M861.2,774.5h7.6a3.8,4.2 0 0 1 -7.6,0z" fill="url(#gp)"/><circle cx="865" cy="776" r="3.9" fill="url(#gp)"/><text x="872.5" y="778.8" font-size="7.9" fill="#4b5563" font-family="Liberation Sans, sans-serif">pending</text><circle cx="913" cy="776" r="3.9" fill="url(#gd)"/><text x="920.8" y="778.8" font-size="7.9" fill="#4b5563" font-family="Liberation Sans, sans-serif">dueSoon</text></svg></div>
<div id="redge"></div>
<div id="footer">© 2025 Innobi • Data Engineering • BI • Cloud Architecture</div>
<div id="collapse"><svg width="10.5" height="10.5" viewBox="0 0 24 24" fill="none" stroke="#fff" stroke-width="2.3" stroke-linecap="round" stroke-linejoin="round" ><path d="m15 18-6-6 6-6"/></svg></div>
</div></div>
</body></html>
